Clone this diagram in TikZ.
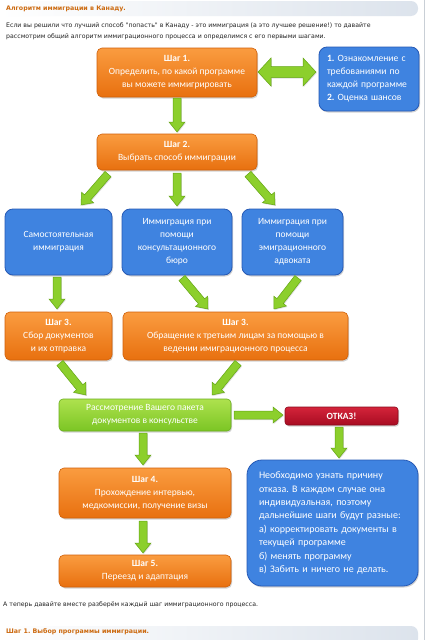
\documentclass[tikz,border=0pt]{standalone}
\usepackage{fontspec}
\setmainfont{Carlito}
\newfontfamily\webfont{DejaVu Sans}
\usetikzlibrary{calc,shadows}
\frenchspacing
\definecolor{orangetop}{HTML}{FA9C40}
\definecolor{orangebot}{HTML}{E8700F}
\definecolor{orangeedge}{HTML}{D0600A}
\definecolor{bluefill}{HTML}{3F83E0}
\definecolor{blueedge}{HTML}{2659B5}
\definecolor{greentop}{HTML}{AEE24E}
\definecolor{greenbot}{HTML}{7BC524}
\definecolor{greenedge}{HTML}{6AAE1E}
\definecolor{redtop}{HTML}{D4243A}
\definecolor{redbot}{HTML}{A80C22}
\definecolor{rededge}{HTML}{8A0A1C}
\definecolor{arrowfill}{HTML}{8CCF2C}
\definecolor{arrowedge}{HTML}{64A614}
\definecolor{headorange}{HTML}{CC6A10}
\definecolor{barright}{HTML}{DCE3EC}
\definecolor{webtext}{HTML}{222222}
\newcommand\fatarrow[5]{%
  \path ($(#2)!#5!(#1)$) coordinate (fah);
  \filldraw[fatarr] ($(#1)!#3!90:(#2)$) -- ($(fah)!#3!90:(#2)$) -- ($(fah)!#4!90:(#2)$) -- (#2) -- ($(fah)!#4!-90:(#2)$) -- ($(fah)!#3!-90:(#2)$) -- ($(#1)!#3!-90:(#2)$) -- cycle;}
\begin{document}
\frenchspacing
\begin{tikzpicture}[x=1pt,y=-1pt,
  shad/.style={drop shadow={shadow xshift=1pt,shadow yshift=-1.5pt,opacity=0.35}},
  basebox/.style={rectangle,inner sep=0pt,text=white,align=center,
    font=\fontsize{9.5}{13}\selectfont,shad},
  orangebox/.style={basebox,rounded corners=5pt,draw=orangeedge,line width=0.6pt,
    top color=orangetop,bottom color=orangebot},
  bluebox/.style={basebox,rounded corners=8pt,draw=blueedge,line width=0.8pt,fill=bluefill},
  greenbox/.style={basebox,rounded corners=4pt,draw=greenedge,line width=0.6pt,
    top color=greentop,bottom color=greenbot},
  redbox/.style={basebox,rounded corners=3pt,draw=rededge,line width=0.6pt,
    top color=redtop,bottom color=redbot},
  fatarr/.style={fill=arrowfill,draw=arrowedge,line width=0.5pt,line join=miter,
    drop shadow={shadow xshift=0.8pt,shadow yshift=-1pt,opacity=0.25}},
  webtxt/.style={anchor=west,inner sep=0pt,text=webtext,font=\webfont\fontsize{6.2}{8}\selectfont},
  webhead/.style={anchor=west,inner sep=0pt,text=headorange,font=\webfont\bfseries\fontsize{6.3}{8}\selectfont}
]
\useasboundingbox (0,0) rectangle (428,640);
\fill[white] (0,0) rectangle (428,640);
% header bars
\shade[left color=white,right color=barright,rounded corners=7pt] (0,1) rectangle (418,16);
\shade[left color=white,right color=barright,rounded corners=7pt] (0,626) rectangle (418,646);
\fill[white] (0,640) rectangle (428,648);
\draw[barright!80!gray,line width=1pt] (424.5,0) -- (424.5,640);
\node[webhead] (h1) at (6,9) {Алгоритм иммиграции в Канаду.};
\node[webtxt] (p1) at (6,26) {Если вы решили что лучший способ "попасть" в Канаду - это иммиграция (а это лучшее решение!) то давайте};
\node[webtxt] (p2) at (6,37) {рассмотрим общий алгоритм иммиграционного процесса и определимся с его первыми шагами.};
\node[webtxt] (p3) at (3,605) {А теперь давайте вместе разберём каждый шаг иммиграционного процесса.};
\node[webhead] (h2) at (6,632) {Шаг 1. Выбор программы иммиграции.};

% boxes
\node[orangebox,minimum width=160pt,minimum height=49pt] (s1) at (177,72.5)
  {\textbf{Шаг 1.}\\Определить, по какой программе\\вы можете иммигрировать};
\node[bluebox,minimum width=100pt,minimum height=64pt,align=left,text width=84pt,
  font=\fontsize{9.6}{13}\selectfont] (info) at (369,79)
  {\textbf{1.} Ознакомление с\\требованиями по\\каждой программе\\\textbf{2.} Оценка шансов};
\node[orangebox,minimum width=160pt,minimum height=36pt] (s2) at (177,152)
  {\textbf{Шаг 2.}\\Выбрать способ иммиграции};
\node[bluebox,minimum width=107pt,minimum height=66pt] (a) at (58.5,242)
  {Самостоятельная\\иммиграция};
\node[bluebox,minimum width=110pt,minimum height=66pt] (b) at (177,242)
  {Иммиграция при\\помощи\\консультационного\\бюро};
\node[bluebox,minimum width=101pt,minimum height=66pt] (c) at (292.5,242)
  {Иммиграция при\\помощи\\эмиграционного\\адвоката};
\node[orangebox,minimum width=107pt,minimum height=48pt] (s3a) at (58.5,336)
  {\textbf{Шаг 3.}\\Сбор документов\\и их отправка};
\node[orangebox,minimum width=225pt,minimum height=48pt] (s3b) at (235.5,336)
  {\textbf{Шаг 3.}\\Обращение к третьим лицам за помощью в\\ведении имиграционного процесса};
\node[greenbox,minimum width=172pt,minimum height=32pt] (rev) at (145,415)
  {Рассмотрение Вашего пакета\\документов в консульстве};
\node[redbox,minimum width=113pt,minimum height=18pt] (otk) at (341.5,416)
  {\textbf{ОТКАЗ!}};
\node[orangebox,minimum width=172pt,minimum height=50pt] (s4) at (145,493)
  {\textbf{Шаг 4.}\\Прохождение интервью,\\медкомиссии, получение визы};
\node[orangebox,minimum width=172pt,minimum height=32pt] (s5) at (145,571)
  {\textbf{Шаг 5.}\\Переезд и адаптация};
\node[bluebox,rounded corners=15pt,minimum width=171pt,minimum height=126pt,align=left,
  text width=147pt,font=\fontsize{10}{13.4}\selectfont] (why) at (332.5,523)
  {Необходимо узнать причину\\отказа. В каждом случае она\\индивидуальная, поэтому\\дальнейшие шаги будут разные:\\а) корректировать документы в\\текущей программе\\б) менять программу\\в) Забить и ничего не делать.};

% arrow end points
\coordinate (s1o) at (177,98);   \coordinate (s2i) at (177,132);
\coordinate (s2oa) at (108,174); \coordinate (ai) at (81,205);
\coordinate (s2ob) at (177,173); \coordinate (bi) at (177,206);
\coordinate (s2oc) at (248,174); \coordinate (ci) at (275,205);
\coordinate (ao) at (57,277);    \coordinate (s3ai) at (57,309);
\coordinate (bo) at (182,278);   \coordinate (s3bi1) at (208,309);
\coordinate (co) at (298,278);   \coordinate (s3bi2) at (274,309);
\coordinate (s3ao) at (60,363);  \coordinate (revi1) at (86,395);
\coordinate (s3bo) at (238,363); \coordinate (revi2) at (212,395);
\coordinate (revo) at (234,415); \coordinate (otki) at (283,415);
\coordinate (otko) at (339,427); \coordinate (whyi) at (339,458);
\coordinate (revo2) at (143,433);\coordinate (s4i) at (143,465);
\coordinate (s4o) at (143,521);  \coordinate (s5i) at (143,553);

\fatarrow{s1o}{s2i}{4pt}{8pt}{10pt}
\fatarrow{s2oa}{ai}{4pt}{8pt}{10pt}
\fatarrow{s2ob}{bi}{4pt}{8pt}{10pt}
\fatarrow{s2oc}{ci}{4pt}{8pt}{10pt}
\fatarrow{ao}{s3ai}{4pt}{8pt}{10pt}
\fatarrow{bo}{s3bi1}{4pt}{8pt}{10pt}
\fatarrow{co}{s3bi2}{4pt}{8pt}{10pt}
\fatarrow{s3ao}{revi1}{4pt}{8pt}{10pt}
\fatarrow{s3bo}{revi2}{4pt}{8pt}{10pt}
\fatarrow{revo}{otki}{4pt}{8pt}{10pt}
\fatarrow{otko}{whyi}{4pt}{8pt}{10pt}
\fatarrow{revo2}{s4i}{4pt}{8pt}{10pt}
\fatarrow{s4o}{s5i}{4pt}{8pt}{10pt}

% double arrow between s1 and info
\coordinate (dl) at (258,72);
\coordinate (dr) at (316,72);
\filldraw[fatarr] (dl) -- ($(dl)+(13,-14)$) -- ($(dl)+(13,-5.5)$) -- ($(dr)+(-13,-5.5)$)
  -- ($(dr)+(-13,-14)$) -- (dr) -- ($(dr)+(-13,14)$) -- ($(dr)+(-13,5.5)$)
  -- ($(dl)+(13,5.5)$) -- ($(dl)+(13,14)$) -- cycle;
\end{tikzpicture}
\end{document}
